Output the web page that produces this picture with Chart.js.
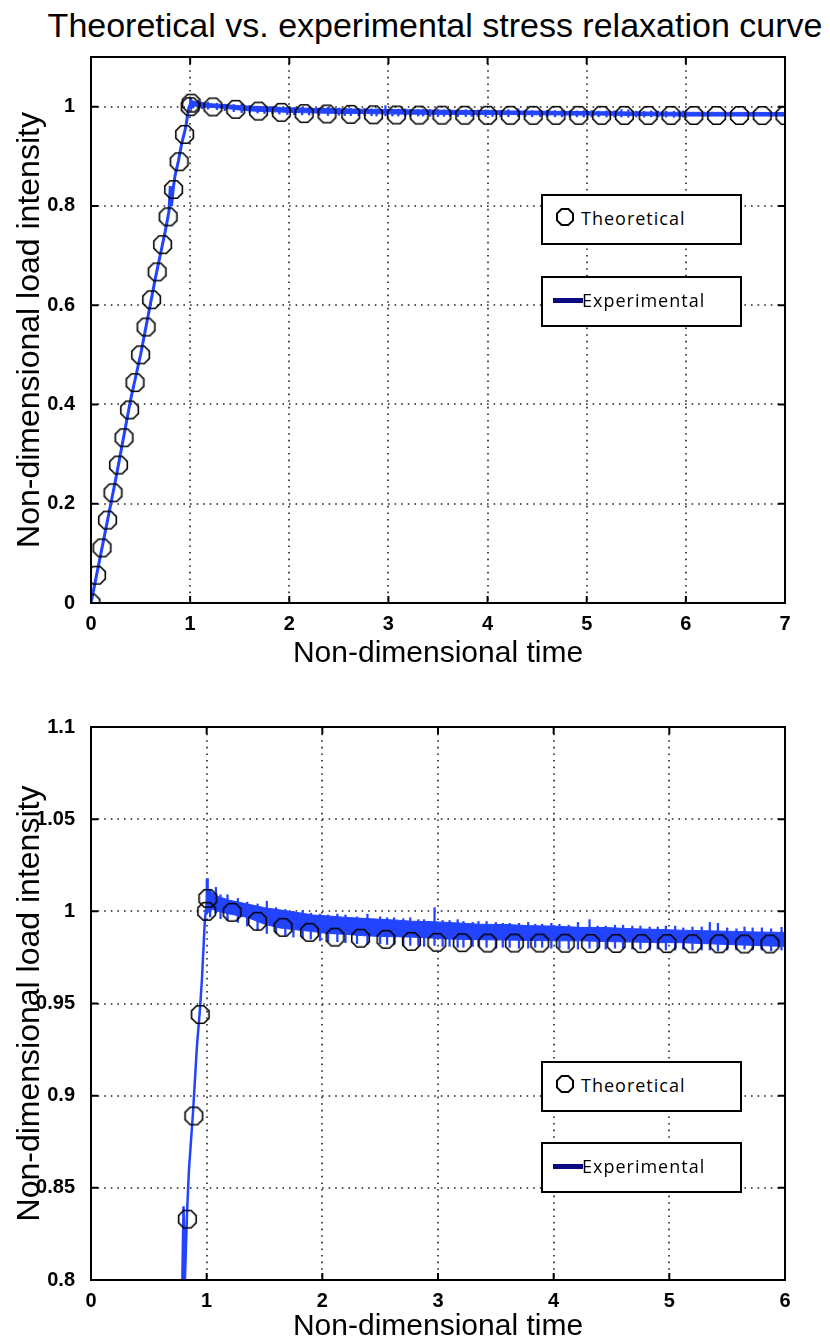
<!DOCTYPE html>
<html>
<head>
<meta charset="utf-8">
<script src="https://cdn.jsdelivr.net/npm/chart.js@4.4.1/dist/chart.umd.min.js"></script>
<style>
  body { margin: 0; background: #fff; width: 830px; height: 1343px; overflow: hidden; position: relative; font-family: "Liberation Sans", Arial, sans-serif; }
  canvas { position: absolute; left: 0; }
  #title { position: absolute; left: 0; top: 8px; width: 870px; text-align: center; font-size: 34px; line-height: 34px; color: #000; }
  .box { position: absolute; left: 541px; width: 201px; height: 51px; box-sizing: border-box; border: 2px solid #000; background: #fff; }
  .box span { position: absolute; top: 11px; font-family: "Open Sans", sans-serif; font-size: 18px; line-height: 22px; letter-spacing: 1px; color: #000; }
  .box svg { position: absolute; left: 13px; top: 12px; }
  .box i { position: absolute; left: 10px; width: 30px; height: 5px; background: #0a0a80; }
</style>
</head>
<body>
<div id="title">Theoretical vs. experimental stress relaxation curve</div>
<canvas id="top" width="830" height="680" style="top:0"></canvas>
<canvas id="bottom" width="830" height="670" style="top:680px"></canvas>

<div class="box" style="top:194px"><svg width="18" height="18"><polygon points="12.4,1 17,5.6 17,12.4 12.4,17 5.6,17 1,12.4 1,5.6 5.6,1" fill="none" stroke="#000" stroke-width="2"/></svg><span style="left:38px">Theoretical</span></div>
<div class="box" style="top:276px"><i style="top:20px"></i><span style="left:39px">Experimental</span></div>
<div class="box" style="top:1061px"><svg width="18" height="18"><polygon points="12.4,1 17,5.6 17,12.4 12.4,17 5.6,17 1,12.4 1,5.6 5.6,1" fill="none" stroke="#000" stroke-width="2"/></svg><span style="left:38px">Theoretical</span></div>
<div class="box" style="top:1142px"><i style="top:20px"></i><span style="left:39px">Experimental</span></div>

<script>
// theoretical model, top figure (ramp then relaxation)
const topTheoTime = [0, 0.056, 0.111, 0.167, 0.222, 0.278, 0.333, 0.389, 0.444, 0.5, 0.556, 0.611, 0.667, 0.722, 0.778, 0.833, 0.889, 0.944, 1.0,
  1.01, 1.23, 1.46, 1.69, 1.92, 2.15, 2.38, 2.62, 2.85, 3.08, 3.31, 3.54, 3.77, 4.0, 4.23, 4.46, 4.69, 4.92, 5.15, 5.38, 5.62, 5.85, 6.08, 6.31, 6.54, 6.77, 7.0];
const topTheoLoad = [0, 0.056, 0.111, 0.167, 0.222, 0.278, 0.333, 0.389, 0.444, 0.5, 0.556, 0.611, 0.667, 0.722, 0.778, 0.833, 0.889, 0.944, 1.0,
  1.007, 0.9995, 0.9945, 0.991, 0.9885, 0.986, 0.9852, 0.9845, 0.9836, 0.9832, 0.983, 0.9828, 0.9827, 0.9826, 0.9826, 0.9825, 0.9825, 0.9824, 0.9824, 0.9823, 0.9823, 0.9823, 0.9822, 0.9822, 0.9822, 0.9821, 0.9821];

// theoretical model, bottom (zoomed) figure
const botTheoTime = [0.778, 0.833, 0.889, 0.944, 1.0, 1.01, 1.22, 1.44, 1.66, 1.89, 2.11, 2.33, 2.55, 2.77, 2.99, 3.21, 3.43, 3.66, 3.88, 4.10, 4.32, 4.54, 4.76, 4.98, 5.20, 5.43, 5.65, 5.87];
const botTheoLoad = [0.778, 0.833, 0.889, 0.944, 1.0, 1.007, 0.9995, 0.9946, 0.9913, 0.9886, 0.986, 0.9854, 0.9848, 0.9837, 0.9832, 0.983, 0.9828, 0.9828, 0.9828, 0.9827, 0.9826, 0.9826, 0.9825, 0.9825, 0.9824, 0.9824, 0.9823, 0.9823];

// experimental loading ramp
const expRampTime = [0, 0.1, 0.25, 0.4, 0.5, 0.65, 0.75, 0.787, 0.80, 0.812, 0.83, 0.847, 0.882, 0.916, 0.942, 0.959, 0.985, 1.0, 1.003, 1.006, 1.01];
const expRampLoad = [0, 0.1, 0.25, 0.41, 0.5, 0.655, 0.75, 0.79, 0.84, 0.80, 0.836, 0.86, 0.891, 0.927, 0.947, 0.963, 0.996, 1.004, 1.018, 1.002, 1.008];

// experimental relaxation: solid part of the noise band, upper and lower edge
const expBandTime  = [1.0, 1.02, 1.05, 1.1, 1.2, 1.35, 1.5, 1.63, 1.8, 1.92, 2.05, 2.21, 2.35, 2.5, 2.65, 2.78, 2.95, 3.08, 3.2, 3.36, 3.6, 3.8, 4.0, 4.23, 4.45, 4.7, 4.9, 5.09, 5.3, 5.5, 5.75, 5.96, 6.5, 7.0];
const expBandUpper = [1.004, 1.012, 1.010, 1.008, 1.006, 1.004, 1.002, 1.0008, 0.9992, 0.998, 0.9975, 0.9967, 0.9962, 0.9957, 0.9952, 0.9946, 0.9944, 0.994, 0.9936, 0.993, 0.9928, 0.9922, 0.992, 0.9913, 0.9912, 0.9905, 0.9902, 0.9898, 0.9895, 0.9892, 0.9888, 0.9886, 0.9884, 0.9882];
const expBandLower = [0.998, 1.000, 1.001, 1.000, 0.9985, 0.9967, 0.993, 0.991, 0.9898, 0.989, 0.988, 0.9875, 0.9868, 0.9864, 0.9862, 0.986, 0.9855, 0.985, 0.9848, 0.9846, 0.9844, 0.9842, 0.984, 0.984, 0.9836, 0.9833, 0.983, 0.983, 0.9825, 0.982, 0.9815, 0.981, 0.981, 0.981];

// experimental relaxation: single noise spikes (min / max of a sample burst)
const expSpikeTime = [1.03, 1.08, 1.12, 1.18, 1.27, 1.35, 1.44, 1.52, 1.6, 1.68, 1.75, 1.83, 1.9, 1.98, 2.05, 2.13, 2.2, 2.3, 2.39, 2.5, 2.56, 2.62, 2.7, 2.76, 2.83, 2.88, 2.97, 3.04, 3.1, 3.17, 3.22, 3.3, 3.35, 3.42, 3.5, 3.56, 3.62, 3.7, 3.78, 3.84, 3.9, 3.98, 4.05, 4.13, 4.21, 4.31, 4.38, 4.45, 4.53, 4.6, 4.68, 4.75, 4.83, 4.9, 4.97, 5.05, 5.12, 5.2, 5.28, 5.35, 5.42, 5.5, 5.58, 5.65, 5.72, 5.8, 5.88, 5.97];
const expSpikeHigh = [1.011, 1.013, 1.009, 1.009, 1.007, 1.005, 1.004, 1.0055, 1.002, 1.001, 1.0, 1.0005, 0.999, 0.9985, 0.998, 0.9985, 0.998, 0.997, 0.9985, 0.997, 0.9965, 0.9965, 0.996, 0.9965, 0.9955, 0.9955, 1.002, 0.995, 0.995, 0.9955, 0.9945, 0.994, 0.9945, 0.9945, 0.994, 0.9935, 0.9935, 0.9935, 0.994, 0.993, 0.993, 0.9935, 0.993, 0.9925, 0.994, 0.9955, 0.992, 0.992, 0.9925, 0.9925, 0.992, 0.992, 0.9915, 0.9915, 0.992, 0.992, 0.991, 0.9915, 0.9915, 0.994, 0.9935, 0.991, 0.9905, 0.9915, 0.991, 0.991, 0.9905, 0.9913];
const expSpikeLow  = [0.997, 0.999, 0.996, 0.995, 0.994, 0.992, 0.99, 0.988, 0.988, 0.987, 0.986, 0.9855, 0.985, 0.984, 0.9835, 0.9835, 0.983, 0.9825, 0.982, 0.9825, 0.982, 0.982, 0.9815, 0.9815, 0.9815, 0.981, 0.9815, 0.981, 0.981, 0.9805, 0.9805, 0.981, 0.981, 0.9805, 0.980, 0.9805, 0.9805, 0.980, 0.980, 0.9805, 0.9805, 0.980, 0.980, 0.9795, 0.9795, 0.980, 0.9795, 0.9795, 0.980, 0.980, 0.9795, 0.9795, 0.979, 0.9795, 0.979, 0.979, 0.9795, 0.979, 0.979, 0.979, 0.9785, 0.979, 0.979, 0.9795, 0.979, 0.979, 0.9785, 0.979];

const topXTicks = [0, 1, 2, 3, 4, 5, 6, 7];
const topYTicks = [0, 0.2, 0.4, 0.6, 0.8, 1];
const topYLabels = ['0', '0.2', '0.4', '0.6', '0.8', '1'];
const botXTicks = [0, 1, 2, 3, 4, 5, 6];
const botYTicks = [0.8, 0.85, 0.9, 0.95, 1, 1.05, 1.1];
const botYLabels = ['0.8', '0.85', '0.9', '0.95', '1', '1.05', '1.1'];

const BLUE = '#2244ff';

function pts(xs, ys) {
  return xs.map((x, i) => ({x: x, y: ys[i]}));
}

function octagon(r, w) {
  const c = document.createElement('canvas');
  const s = Math.ceil(2 * r + 2 * w + 2);
  c.width = c.height = s;
  const g = c.getContext('2d');
  g.strokeStyle = '#000';
  g.lineWidth = w;
  g.beginPath();
  for (let i = 0; i < 8; i++) {
    const a = Math.PI / 8 + i * Math.PI / 4;
    const px = s / 2 + r * Math.cos(a), py = s / 2 + r * Math.sin(a);
    if (i) g.lineTo(px, py); else g.moveTo(px, py);
  }
  g.closePath();
  g.stroke();
  return c;
}
const marker = octagon(9.5, 1.6);

// matlab style: dotted grid under the data, box and inner ticks on top
const frame = {
  id: 'frame',
  beforeDatasetsDraw(chart) {
    const {ctx, chartArea: a, scales: {x, y}} = chart;
    ctx.save();
    ctx.strokeStyle = '#222';
    ctx.lineWidth = 1.6;
    ctx.setLineDash([1.6, 5]);
    x.ticks.forEach(t => {
      const px = Math.round(x.getPixelForValue(t.value));
      if (px <= a.left + 1 || px >= a.right - 1) return;
      ctx.beginPath(); ctx.moveTo(px, a.top); ctx.lineTo(px, a.bottom); ctx.stroke();
    });
    y.ticks.forEach(t => {
      const py = Math.round(y.getPixelForValue(t.value));
      if (py <= a.top + 1 || py >= a.bottom - 1) return;
      ctx.beginPath(); ctx.moveTo(a.left, py); ctx.lineTo(a.right, py); ctx.stroke();
    });
    ctx.restore();
  },
  afterDatasetsDraw(chart) {
    const {ctx, chartArea: a, scales: {x, y}} = chart;
    ctx.save();
    ctx.strokeStyle = '#000';
    ctx.lineWidth = 2;
    ctx.strokeRect(a.left, a.top, a.right - a.left, a.bottom - a.top);
    ctx.beginPath();
    x.ticks.forEach(t => {
      const px = x.getPixelForValue(t.value);
      ctx.moveTo(px, a.bottom); ctx.lineTo(px, a.bottom - 7);
      ctx.moveTo(px, a.top); ctx.lineTo(px, a.top + 7);
    });
    y.ticks.forEach(t => {
      const py = y.getPixelForValue(t.value);
      ctx.moveTo(a.left, py); ctx.lineTo(a.left + 7, py);
      ctx.moveTo(a.right, py); ctx.lineTo(a.right - 7, py);
    });
    ctx.stroke();
    ctx.restore();
  }
};

function makeChart(id, o) {
  return new Chart(document.getElementById(id), {
    type: 'line',
    data: {
      datasets: [
        { label: 'Theoretical', data: pts(o.theoTime, o.theoLoad), showLine: false,
          pointStyle: marker, pointRadius: 10, order: 0 },
        { label: 'Experimental', data: pts(expRampTime, expRampLoad), borderColor: BLUE,
          borderWidth: o.rampWidth, pointRadius: 0, clip: 0, order: 1 },
        { label: 'band upper', data: pts(expBandTime, expBandUpper), borderColor: BLUE, borderWidth: 1,
          pointRadius: 0, fill: '+1', backgroundColor: BLUE, clip: 0, order: 2 },
        { label: 'band lower', data: pts(expBandTime, expBandLower), borderColor: BLUE, borderWidth: 1,
          pointRadius: 0, clip: 0, order: 3 },
        { type: 'bar', label: 'spikes', data: expSpikeTime.map((t, i) => ({x: t, y: [expSpikeLow[i], expSpikeHigh[i]]})),
          backgroundColor: BLUE, borderWidth: 0, barThickness: 1.6, clip: 0, order: 2 }
      ]
    },
    options: {
      responsive: false,
      animation: false,
      events: [],
      layout: { padding: { top: o.padTop, right: 45, bottom: 0, left: 0 } },
      plugins: { legend: { display: false }, tooltip: { enabled: false } },
      scales: {
        x: {
          type: 'linear', min: 0, max: o.xMax, offset: false,
          afterBuildTicks: s => { s.ticks = o.xTicks.map(v => ({value: v})); },
          afterFit: s => { s.height = o.xHeight; },
          grid: { display: false, offset: false },
          border: { display: false },
          ticks: { color: '#000', padding: 1, font: { family: 'Liberation Sans', size: 20, weight: 'bold' },
                   callback: (v, i) => String(o.xTicks[i]) },
          title: { display: true, text: 'Non-dimensional time', color: '#000',
                   font: { family: 'Liberation Sans', size: 30 }, padding: { bottom: o.xTitlePad } }
        },
        y: {
          type: 'linear', min: o.yMin, max: o.yMax, beginAtZero: false,
          afterBuildTicks: s => { s.ticks = o.yTicks.map(v => ({value: v})); },
          afterFit: s => { s.width = 91; },
          grid: { display: false },
          border: { display: false },
          ticks: { color: '#000', padding: 8, font: { family: 'Liberation Sans', size: 20, weight: 'bold' },
                   callback: (v, i) => o.yLabels[i] },
          title: { display: true, text: 'Non-dimensional load intensity', color: '#000',
                   font: { family: 'Liberation Sans', size: 32 }, padding: { top: 11 } }
        }
      }
    },
    plugins: [frame]
  });
}

makeChart('top', {
  theoTime: topTheoTime, theoLoad: topTheoLoad, rampWidth: 3,
  xMax: 7, xTicks: topXTicks, yMin: 0, yMax: 1.1, yTicks: topYTicks, yLabels: topYLabels,
  padTop: 57, xHeight: 77, xTitlePad: 8
});

makeChart('bottom', {
  theoTime: botTheoTime, theoLoad: botTheoLoad, rampWidth: 2.5,
  xMax: 6, xTicks: botXTicks, yMin: 0.8, yMax: 1.1, yTicks: botYTicks, yLabels: botYLabels,
  padTop: 47, xHeight: 70, xTitlePad: 5
});
</script>
</body>
</html>
